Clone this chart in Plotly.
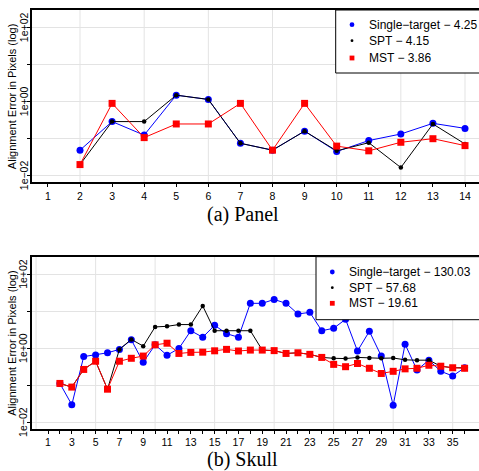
import math
import plotly.graph_objects as go

W, H = 479, 471

# ---------------- data ----------------
# Panel (a)
xa = list(range(2, 15))
a_single = [0.049, 0.29, 0.125, 1.5, 1.15, 0.075, 0.049, 0.16, 0.045, 0.089, 0.134, 0.26, 0.19]
a_spt = [0.020, 0.29, 0.29, 1.5, 1.15, 0.075, 0.049, 0.16, 0.047, 0.078, 0.0166, 0.25, 0.072]
a_mst = [0.020, 0.9, 0.107, 0.25, 0.25, 0.9, 0.049, 0.9, 0.063, 0.047, 0.08, 0.10, 0.065]

# Panel (b)
xb = list(range(2, 37))
b_single = [0.113, 0.030, 0.60, 0.66, 0.76, 0.94, 1.7, 0.42, 1.25, 0.65, 1.0, 3.0, 2.0, 4.2, 2.5, 2.0,
            16.5, 16.5, 21.0, 16.5, 8.5, 9.4, 3.0, 3.5, 6.1, 0.85, 2.9, 0.62, 0.029, 1.3, 0.26, 0.48,
            0.24, 0.18, 0.30]
b_spt = [0.113, 0.090, 0.27, 0.45, 0.079, 0.94, 1.75, 1.15, 3.8, 3.95, 4.4, 4.4, 14.0, 3.0, 3.0, 3.0,
         3.0, 0.90, 0.87, 0.73, 0.76, 0.69, 0.57, 0.54, 0.53, 0.57, 0.55, 0.54, 0.55, 0.49, 0.48, 0.48,
         0.33, 0.30, 0.30]
b_mst = [0.113, 0.090, 0.27, 0.45, 0.079, 0.45, 0.54, 0.62, 1.25, 1.38, 0.73, 0.78, 0.79, 0.86, 0.94, 0.85,
         0.90, 0.90, 0.87, 0.73, 0.76, 0.69, 0.57, 0.37, 0.32, 0.39, 0.29, 0.21, 0.24, 0.28, 0.29, 0.35,
         0.33, 0.30, 0.29]

series_names = ["Single-target", "SPT", "MST"]
legend_a = ["Single\u2212target \u2212 4.25", "SPT \u2212 4.15", "MST \u2212 3.86"]
legend_b = ["Single\u2212target \u2212 130.03", "SPT \u2212 57.68", "MST \u2212 19.61"]
captions = ["(a) Panel", "(b) Skull"]
y_title = "Alignment Error in Pixels (log)"

ytick_vals = [0.01, 0.1, 1, 10, 100]
ytick_text = ["1e\u221202", "", "1e+00", "", "1e+02"]
xa_ticks = list(range(1, 15))
xa_text = [str(v) for v in xa_ticks]
xb_ticks = list(range(1, 37))
xb_text = [str(v) if v % 2 == 1 else "" for v in xb_ticks]
xa_grid = list(range(2, 15, 2))
xb_grid = list(range(0, 36, 5))

# ---------------- styles ----------------
colors = ["#0000FF", "#000000", "#FF0000"]
symbols = ["circle", "circle", "square"]
msizes = [7, 4.5, 7]
GRID = "#E3E3E3"
SANS = "Liberation Sans, Arial, sans-serif"
SERIF = "Liberation Serif, Times New Roman, serif"


def px(x):
    return x / W


def py(y):
    return 1 - y / H


fig = go.Figure()

for xs, ys_list, xr, yr in [(xa, [a_single, a_spt, a_mst], "x", "y"),
                             (xb, [b_single, b_spt, b_mst], "x2", "y2")]:
    for i, ys in enumerate(ys_list):
        fig.add_trace(go.Scatter(
            x=xs, y=ys, mode="lines+markers", name=series_names[i],
            line=dict(color=colors[i], width=1),
            marker=dict(color=colors[i], symbol=symbols[i], size=msizes[i]),
            xaxis=xr, yaxis=yr, showlegend=False, cliponaxis=False))

# plot geometry (pixels)
left = 32
a_top, a_bot = 10, 182.3
b_top, b_bot = 256.7, 429
yrange = [-2.178, 2.477]

axis_common = dict(showline=True, linecolor="black", linewidth=1.6, ticks="outside", ticklen=3,
                   tickwidth=1, tickcolor="black", zeroline=False,
                   tickfont=dict(family=SANS, size=10.5, color="black"))

fig.update_layout(
    width=W, height=H, margin=dict(l=0, r=0, t=0, b=0),
    paper_bgcolor="white", plot_bgcolor="white", showlegend=False,
    xaxis=dict(domain=[px(left), 1], range=[0.504, 14.436], tickmode="array",
               tickvals=xa_ticks, ticktext=xa_text, showgrid=False, mirror=True,
               anchor="y", **axis_common),
    yaxis=dict(domain=[py(a_bot), py(a_top)], type="log", range=yrange, tickmode="array",
               tickvals=ytick_vals, showticklabels=False, showgrid=True,
               gridcolor=GRID, gridwidth=1, anchor="x", **axis_common),
    xaxis2=dict(domain=[px(left), 1], range=[-0.344, 37.21], tickmode="array",
                tickvals=xb_ticks, ticktext=xb_text, tickangle=0, showgrid=False, mirror=True,
                anchor="y2", **axis_common),
    yaxis2=dict(domain=[py(b_bot), py(b_top)], type="log", range=yrange, tickmode="array",
                tickvals=ytick_vals, showticklabels=False, showgrid=True,
                gridcolor=GRID, gridwidth=1, anchor="x2", **axis_common),
)

shapes = []
# vertical grid lines
for g in xa_grid:
    shapes.append(dict(type="line", xref="x", yref="y domain", x0=g, x1=g, y0=0, y1=1,
                       line=dict(color=GRID, width=1), layer="below"))
for g in xb_grid:
    shapes.append(dict(type="line", xref="x2", yref="y2 domain", x0=g, x1=g, y0=0, y1=1,
                       line=dict(color=GRID, width=1), layer="below"))

annotations = []
# rotated y tick labels, placed on the log axes
for yref in ["y", "y2"]:
    for v, t in zip(ytick_vals, ytick_text):
        if t:
            annotations.append(dict(xref="paper", yref=yref, x=px(23.5), y=math.log10(v),
                                    xanchor="center", yanchor="middle", text=t, textangle=-90,
                                    showarrow=False,
                                    font=dict(family=SANS, size=10.5, color="black")))

# legends (boxes drawn manually)
for (top, box_left, txt_x, mk_x, rows, labels) in [
        (a_top, 335.7, 366.5, 352, [24.7, 40.7, 58.0], legend_a),
        (b_top, 316.0, 347.0, 332.3, [272.0, 287.7, 303.3], legend_b)]:
    bottom = top + 63
    shapes.append(dict(type="rect", xref="paper", yref="paper", x0=px(box_left), x1=px(W + 10),
                       y0=py(bottom), y1=py(top), line=dict(color="black", width=1),
                       fillcolor="white", layer="above"))
    for i, (ry, lab) in enumerate(zip(rows, labels)):
        s = [4.8, 2.8, 4.8][i]
        shapes.append(dict(type="circle" if i < 2 else "rect", xref="paper", yref="paper",
                           x0=px(mk_x - s / 2), x1=px(mk_x + s / 2),
                           y0=py(ry + s / 2), y1=py(ry - s / 2),
                           line=dict(width=0), fillcolor=colors[i], layer="above"))
        annotations.append(dict(xref="paper", yref="paper", x=px(txt_x), y=py(ry),
                                xanchor="left", yanchor="middle", text=lab, showarrow=False,
                                font=dict(family=SANS, size=12, color="black")))

# y-axis titles
for top, bot in [(a_top, a_bot), (b_top, b_bot)]:
    annotations.append(dict(xref="paper", yref="paper", x=px(12), y=py((top + bot) / 2),
                            xanchor="center", yanchor="middle", text=y_title, textangle=-90,
                            showarrow=False, font=dict(family=SANS, size=11, color="black")))

# captions
for (cx, cy), cap in zip([(243, 214.5), (242.5, 459.5)], captions):
    annotations.append(dict(xref="paper", yref="paper", x=px(cx), y=py(cy), xanchor="center",
                            yanchor="middle", text=cap, showarrow=False,
                            font=dict(family=SERIF, size=20, color="black")))

fig.update_layout(shapes=shapes, annotations=annotations)
fig.write_html("out.html")
